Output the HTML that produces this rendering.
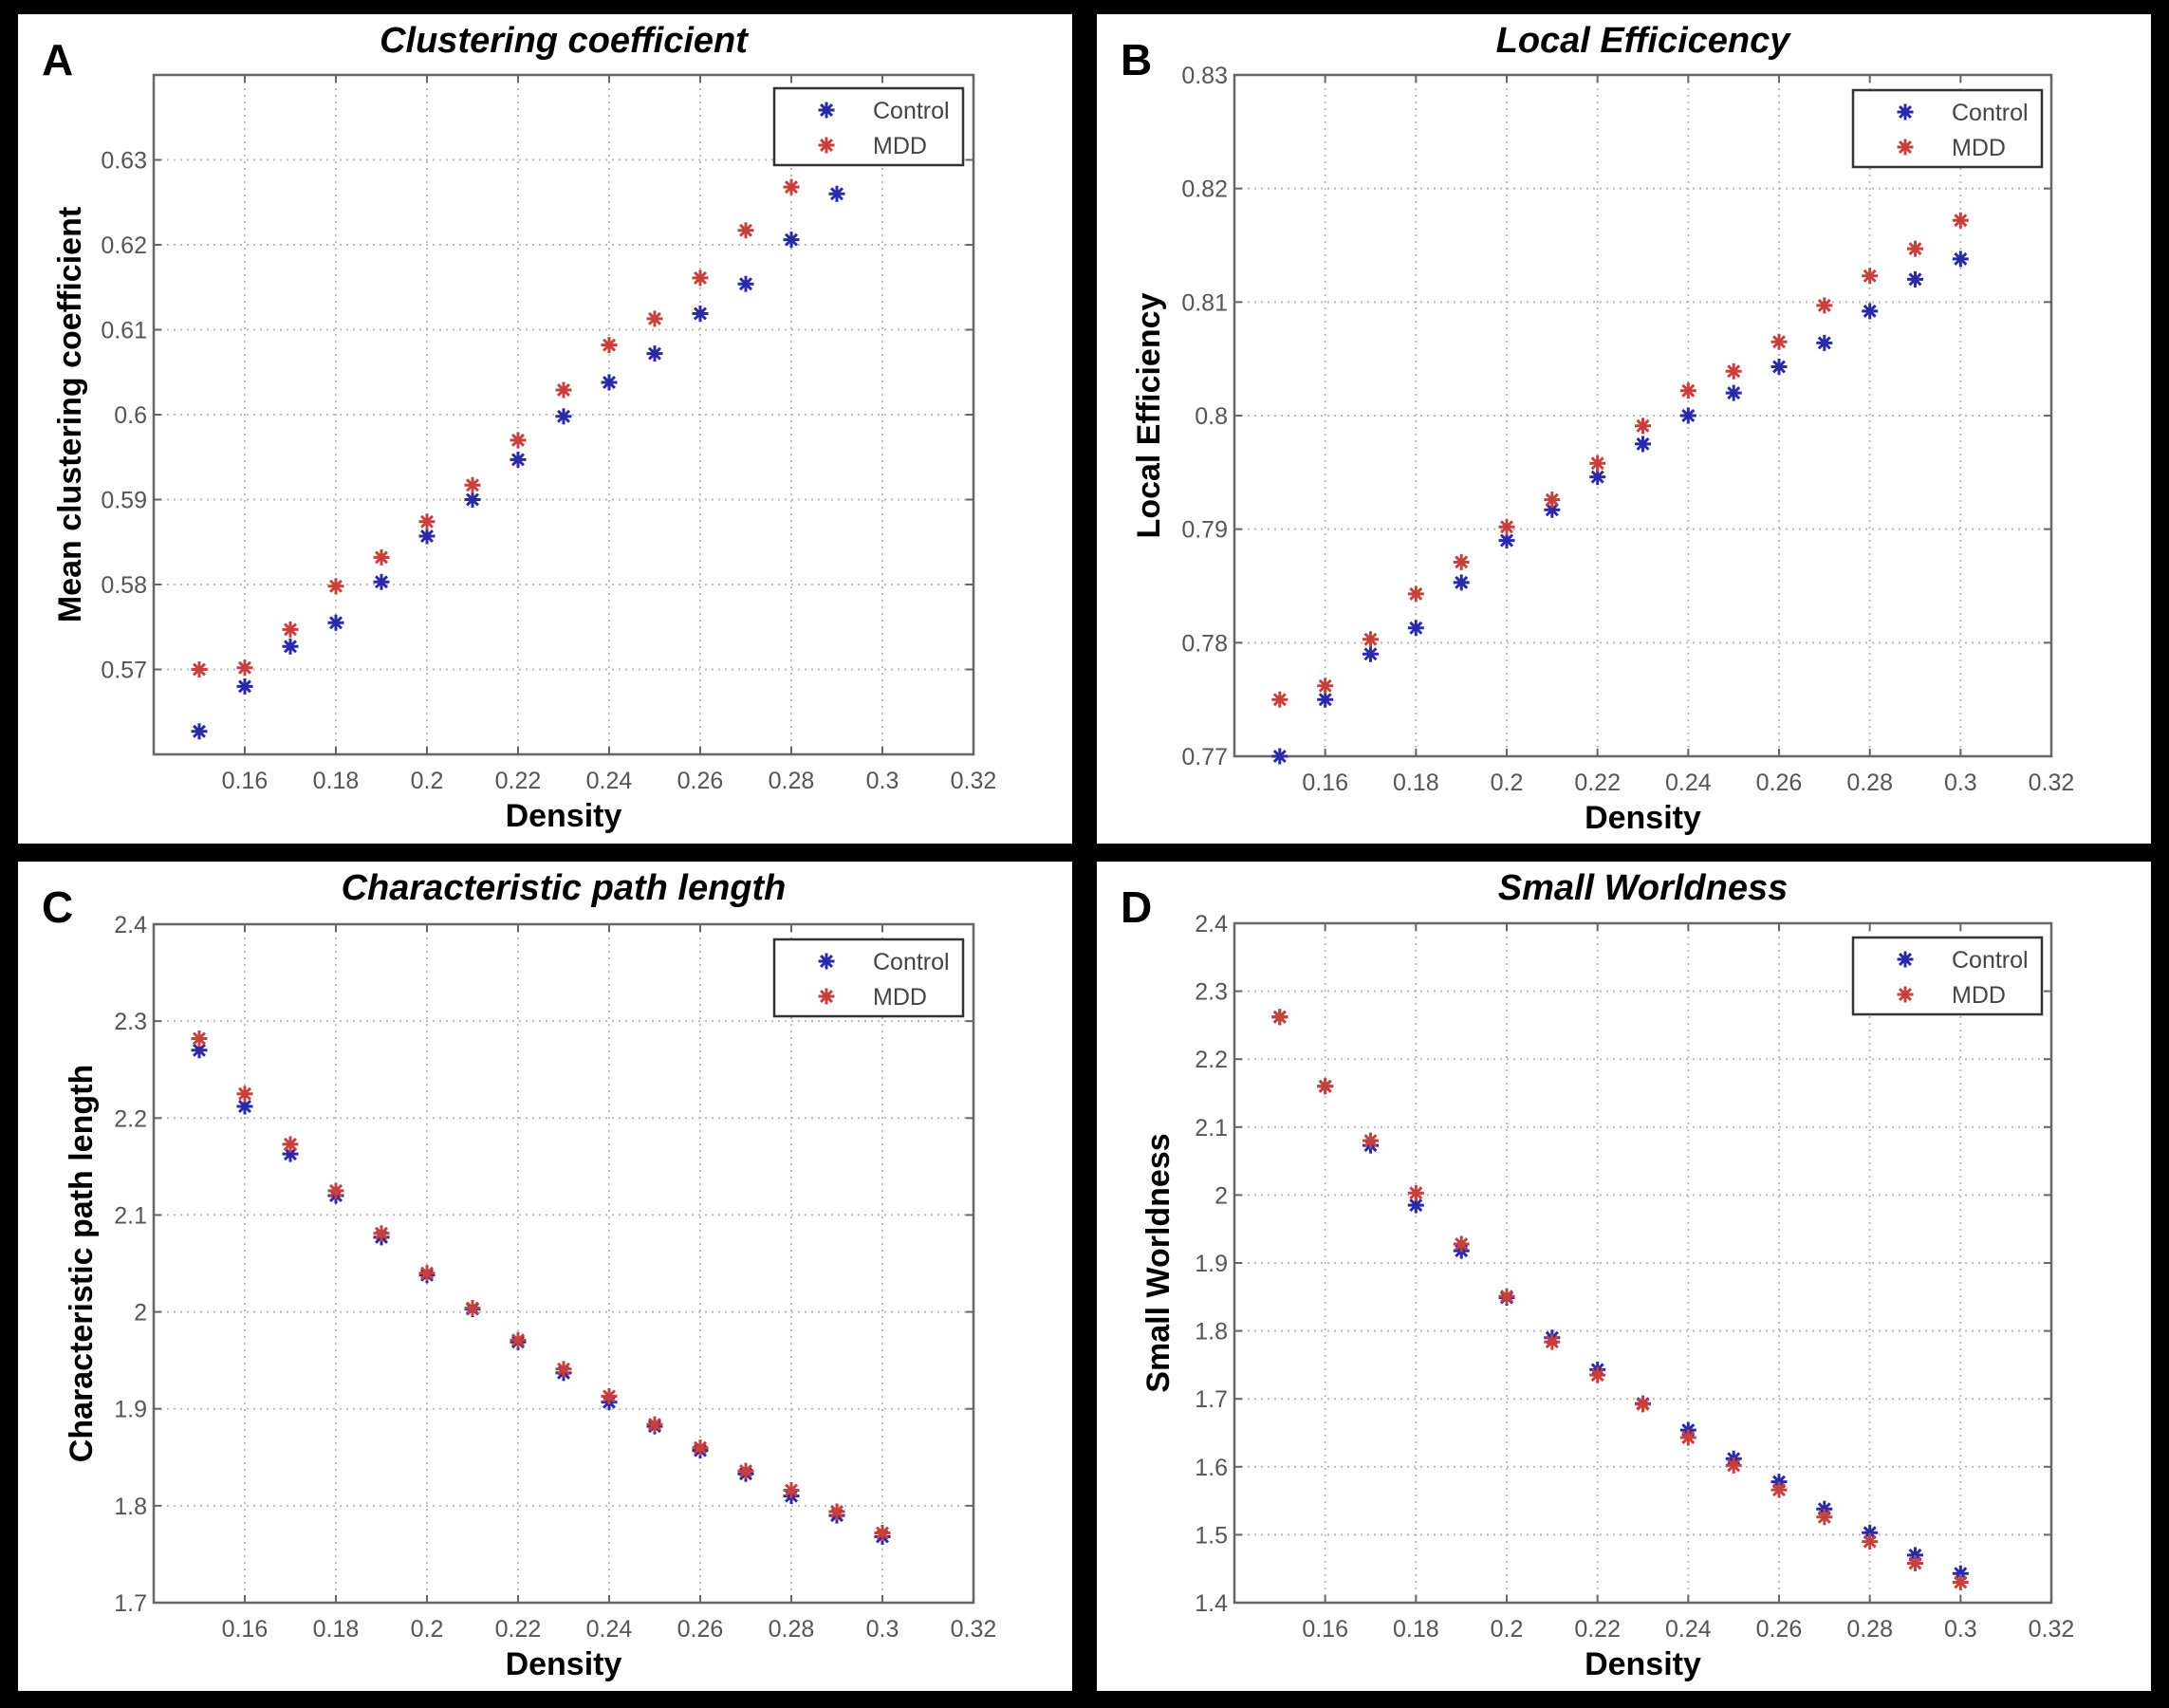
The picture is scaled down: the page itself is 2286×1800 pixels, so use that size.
<!DOCTYPE html>
<html><head><meta charset="utf-8"><style>
html,body{margin:0;padding:0;background:#000;}
svg{display:block;}
text{font-family:"Liberation Sans",sans-serif;}
.tick{fill:#555;font-size:25px;}
.ttl{font-size:38px;font-weight:bold;font-style:italic;fill:#000;}
.lab{font-size:34px;font-weight:bold;fill:#000;}
.let{font-size:46px;font-weight:bold;fill:#000;}
.leg{fill:#444;font-size:25px;}
</style></head><body>
<svg id="fig" width="2286" height="1800" viewBox="0 0 2286 1800" xmlns="http://www.w3.org/2000/svg"></svg>
<script>
const densityA = [0.15,0.16,0.17,0.18,0.19,0.20,0.21,0.22,0.23,0.24,0.25,0.26,0.27,0.28,0.29];
const densityA_mdd = [0.15,0.16,0.17,0.18,0.19,0.20,0.21,0.22,0.23,0.24,0.25,0.26,0.27,0.28];
const density = [0.15,0.16,0.17,0.18,0.19,0.20,0.21,0.22,0.23,0.24,0.25,0.26,0.27,0.28,0.29,0.30];
const xTicks = [0.16,0.18,0.2,0.22,0.24,0.26,0.28,0.3,0.32];
const ccControl = [0.5627,0.568,0.5727,0.5755,0.5803,0.5857,0.590,0.5947,0.5998,0.6038,0.6072,0.6119,0.6154,0.6206,0.626];
const ccMDD = [0.570,0.5702,0.5747,0.5798,0.5832,0.5874,0.5917,0.5970,0.6029,0.6082,0.6113,0.6161,0.6217,0.6268];
const ccTicks = [0.57,0.58,0.59,0.6,0.61,0.62,0.63];
const leControl = [0.770,0.775,0.779,0.7813,0.7853,0.789,0.7917,0.7946,0.7975,0.800,0.802,0.8043,0.8064,0.8092,0.812,0.8138];
const leMDD = [0.775,0.7762,0.7803,0.7843,0.7871,0.7902,0.7926,0.7958,0.7991,0.8022,0.8039,0.8065,0.8097,0.8123,0.8147,0.8172];
const leTicks = [0.77,0.78,0.79,0.8,0.81,0.82,0.83];
const plControl = [2.27,2.212,2.163,2.12,2.077,2.038,2.003,1.969,1.937,1.907,1.882,1.857,1.833,1.81,1.79,1.768];
const plMDD = [2.282,2.225,2.173,2.125,2.081,2.04,2.004,1.971,1.941,1.913,1.884,1.86,1.836,1.816,1.794,1.772];
const plTicks = [1.7,1.8,1.9,2,2.1,2.2,2.3,2.4];
const swControl = [2.262,2.16,2.073,1.985,1.918,1.849,1.79,1.743,1.693,1.654,1.612,1.578,1.538,1.503,1.47,1.443];
const swMDD = [2.262,2.16,2.08,2.003,1.928,1.851,1.784,1.735,1.692,1.643,1.602,1.566,1.526,1.49,1.458,1.43];
const swTicks = [1.4,1.5,1.6,1.7,1.8,1.9,2,2.1,2.2,2.3,2.4];

const NS="http://www.w3.org/2000/svg";
const svg=document.getElementById('fig');
function mk(tag,attrs,parent){const e=document.createElementNS(NS,tag);for(const k in attrs)e.setAttribute(k,attrs[k]);(parent||svg).appendChild(e);return e;}

const panels=[
 {id:'a',letter:'A',title:'Clustering coefficient',ylab:'Mean clustering coefficient',box:[19,15,1111,874],ax:[162,79,1026,795],ymin:0.56,ymax:0.64,yt:ccTicks,c:[densityA,ccControl],m:[densityA_mdd,ccMDD],leg:[816,93],ylx:73},
 {id:'b',letter:'B',title:'Local Efficicency',ylab:'Local Efficiency',box:[1156,15,1111,874],ax:[1301,79,2162,797],ymin:0.77,ymax:0.83,yt:leTicks,c:[density,leControl],m:[density,leMDD],leg:[1953,95],ylx:1210},
 {id:'c',letter:'C',title:'Characteristic path length',ylab:'Characteristic path length',box:[19,908,1111,874],ax:[162,974,1026,1689],ymin:1.7,ymax:2.4,yt:plTicks,c:[density,plControl],m:[density,plMDD],leg:[816,990],ylx:85},
 {id:'d',letter:'D',title:'Small  Worldness',ylab:'Small  Worldness',box:[1156,908,1111,874],ax:[1301,973,2162,1689],ymin:1.4,ymax:2.4,yt:swTicks,c:[density,swControl],m:[density,swMDD],leg:[1953,988],ylx:1220}
];

function star(g,x,y,col,name){
  const s=mk('g',{transform:`translate(${x.toFixed(1)},${y.toFixed(1)})`,stroke:col,'stroke-width':3},g);
  
  
  const r=8.5;
  mk('line',{x1:-r,y1:0,x2:r,y2:0},s);
  mk('line',{x1:0,y1:-r,x2:0,y2:r},s);
  mk('line',{x1:-r*.7,y1:-r*.7,x2:r*.7,y2:r*.7},s);
  mk('line',{x1:-r*.7,y1:r*.7,x2:r*.7,y2:-r*.7},s);
}

panels.forEach(p=>{
  const g=mk('g',{});
  
  
  mk('rect',{x:p.box[0],y:p.box[1],width:p.box[2],height:p.box[3],fill:'#fff'},g);
  const [L,T,R,B]=p.ax;
  const xs=v=>L+(v-0.14)/(0.32-0.14)*(R-L);
  const ys=v=>B-(v-p.ymin)/(p.ymax-p.ymin)*(B-T);
  xTicks.forEach(t=>{
    const x=xs(t);
    if(t<0.319){const gl=mk('line',{x1:x,y1:T,x2:x,y2:B,stroke:'#bbb','stroke-width':2,'stroke-dasharray':'2,5'},g);
      }
    mk('line',{x1:x,y1:B,x2:x,y2:B-8,stroke:'#666','stroke-width':2},g);
    mk('line',{x1:x,y1:T,x2:x,y2:T+8,stroke:'#666','stroke-width':2},g);
    const tl=mk('text',{x:x,y:B+36,'text-anchor':'middle',class:'tick'},g);tl.textContent=String(t);
    
  });
  p.yt.forEach(t=>{
    const y=ys(t);
    if(t<p.ymax-1e-9 && t>p.ymin+1e-9){const gl=mk('line',{x1:L,y1:y,x2:R,y2:y,stroke:'#bbb','stroke-width':2,'stroke-dasharray':'2,5'},g);
      }
    mk('line',{x1:L,y1:y,x2:L+8,y2:y,stroke:'#666','stroke-width':2},g);
    mk('line',{x1:R,y1:y,x2:R-8,y2:y,stroke:'#666','stroke-width':2},g);
    const tl=mk('text',{x:L-7,y:y+9,'text-anchor':'end',class:'tick'},g);tl.textContent=String(t);
    
  });
  const ax=mk('rect',{x:L,y:T,width:R-L,height:B-T,fill:'none',stroke:'#666','stroke-width':2.5},g);
  
  p.c[0].forEach((d,i)=>star(g,xs(d),ys(p.c[1][i]),'#2a2aa8','control-point'));
  p.m[0].forEach((d,i)=>star(g,xs(d),ys(p.m[1][i]),'#c8403c','mdd-point'));
  const cx=(L+R)/2;
  const tt=mk('text',{x:cx,y:p.box[1]+40,'text-anchor':'middle',class:'ttl'},g);tt.textContent=p.title;
  
  const xl=mk('text',{x:cx,y:B+76,'text-anchor':'middle',class:'lab'},g);xl.textContent='Density';
  
  const cy=(T+B)/2;
  const yl=mk('text',{x:p.ylx,y:cy,'text-anchor':'middle',class:'lab',transform:`rotate(-90 ${p.ylx} ${cy}) translate(0 12)`},g);yl.textContent=p.ylab;
  
  const lt=mk('text',{x:p.box[0]+25,y:p.box[1]+64,class:'let'},g);lt.textContent=p.letter;
  
  const lg=mk('g',{},g);
  
  const [lx,ly]=p.leg;
  mk('rect',{x:lx,y:ly,width:199,height:81,fill:'#fff',stroke:'#333','stroke-width':2.5},lg);
  star(lg,lx+55,ly+23,'#2a2aa8','legend-control-marker');
  star(lg,lx+55,ly+60,'#c8403c','legend-mdd-marker');
  const t1=mk('text',{x:lx+104,y:ly+32,class:'leg'},lg);t1.textContent='Control';
  
  const t2=mk('text',{x:lx+104,y:ly+69,class:'leg'},lg);t2.textContent='MDD';
  
});
</script>
</body></html>
